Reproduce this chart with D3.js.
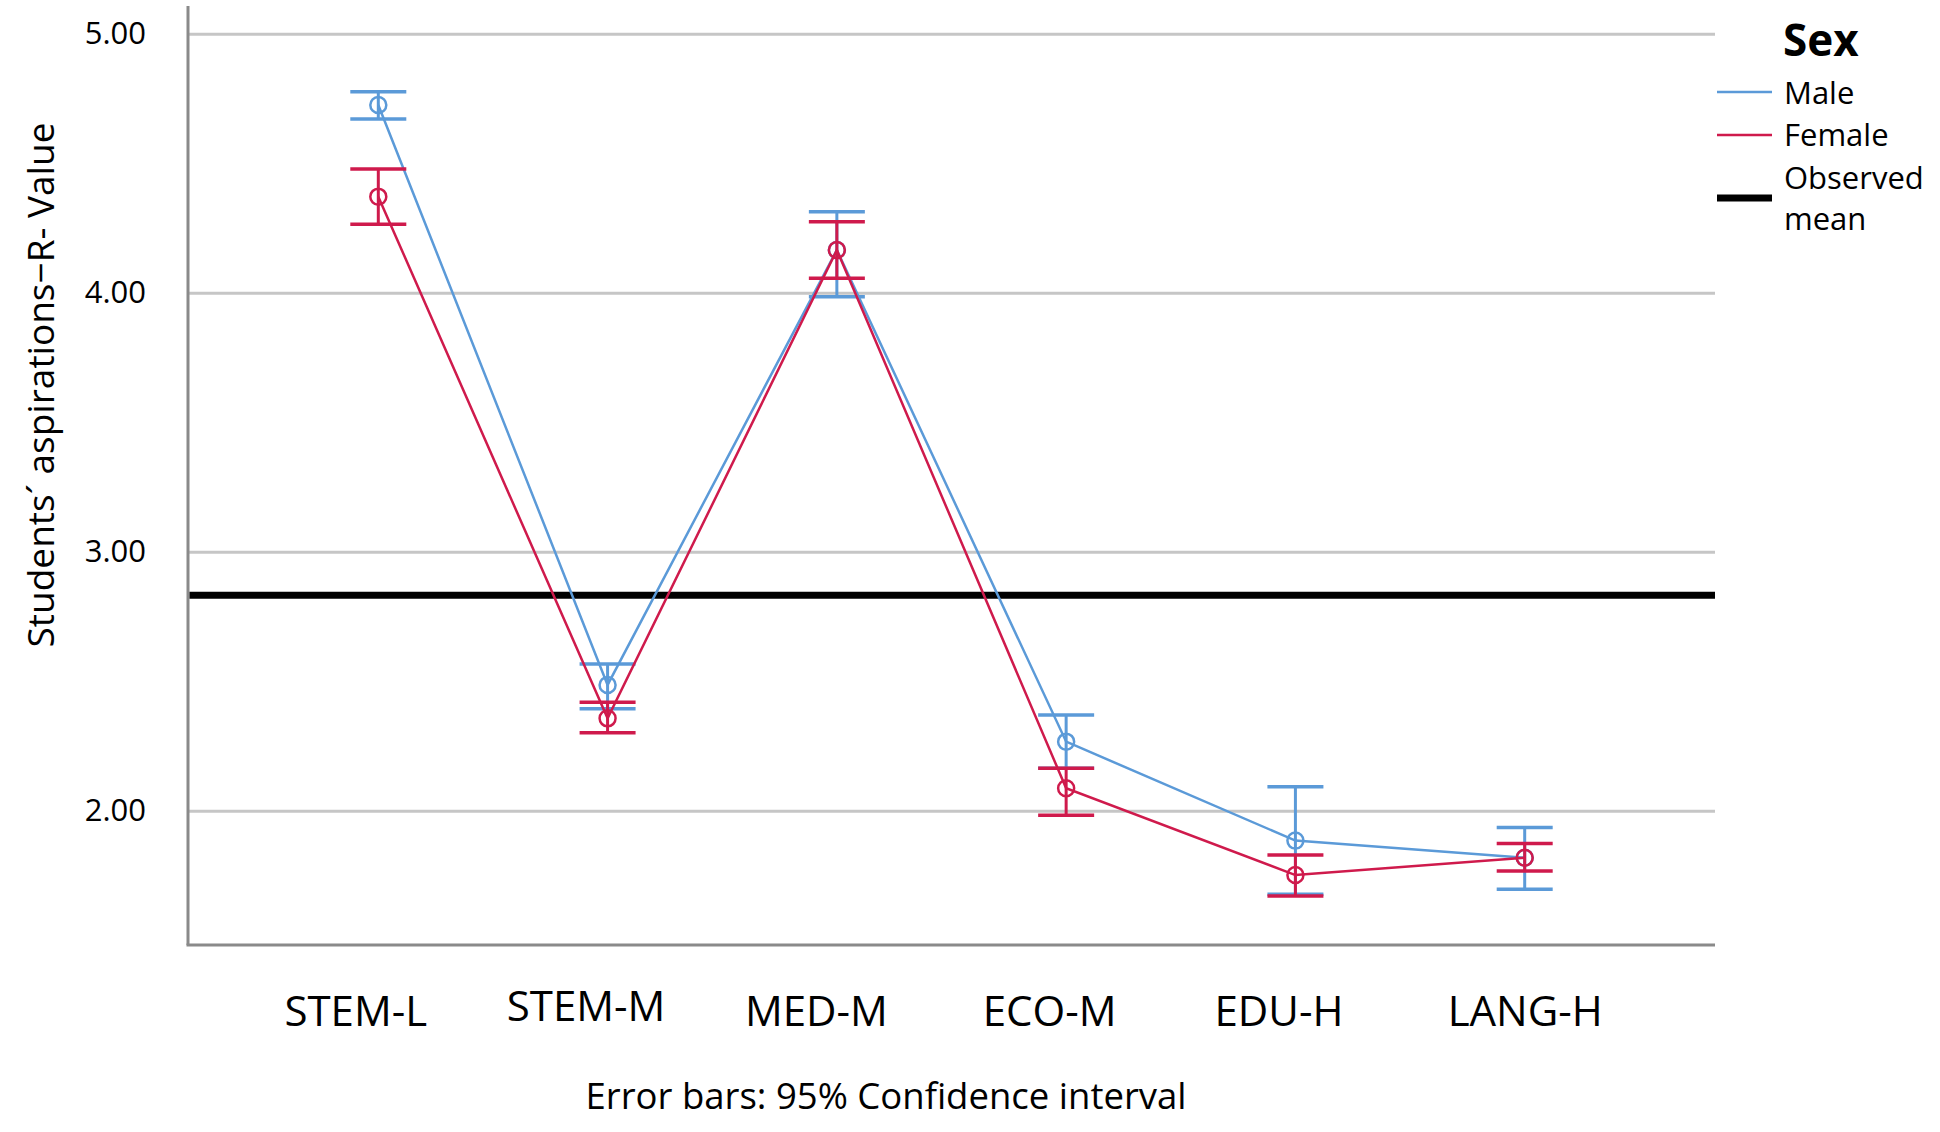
<!DOCTYPE html>
<html>
<head>
<meta charset="utf-8">
<script src="https://cdn.jsdelivr.net/npm/d3@7"></script>
<style>
  html, body { margin: 0; padding: 0; background: #fff; }
  svg { display: block; }
  text { font-family: "Open Sans", "Noto Sans", sans-serif; fill: #000; }
</style>
</head>
<body>
<svg id="chart" width="1940" height="1132"></svg>
<script>
// ---- data ----
const categories = ["STEM-L", "STEM-M", "MED-M", "ECO-M", "EDU-H", "LANG-H"];
const maleMean   = [4.727, 2.488, 4.167, 2.269, 1.887, 1.821];
const maleLower  = [4.673, 2.396, 3.987, 2.166, 1.680, 1.699];
const maleUpper  = [4.778, 2.569, 4.315, 2.372, 2.095, 1.938];
const femaleMean  = [4.373, 2.359, 4.167, 2.089, 1.754, 1.821];
const femaleLower = [4.266, 2.303, 4.058, 1.985, 1.673, 1.770];
const femaleUpper = [4.480, 2.421, 4.276, 2.166, 1.831, 1.876];
const observedMean = 2.834;
const yTicks = [2, 3, 4, 5];
const seriesNames = ["Male", "Female"];
const legendTitle = "Sex";
const observedLabel = ["Observed", "mean"];
const yTitle = "Students\u00b4 aspirations\u2212R- Value";
const footnote = "Error bars: 95% Confidence interval";

const colors = { Male: "#5b9ad8", Female: "#cf1a4c" };

// ---- layout ----
const svg = d3.select("#chart");
const plot = { left: 188, right: 1715, top: 6, bottom: 945 };
// label placement tweaks (layout only): horizontal / vertical nudges of category labels
const labelDx = [-23, -22, -21, -17, -17, 0];
const labelDy = [0, -5, 0, 0, 0, 0];

const x = d3.scalePoint().domain(categories).range([plot.left, plot.right]).padding(0.83);
const y = d3.scaleLinear().domain([1.484, 5.109]).range([plot.bottom, plot.top]);

// gridlines
svg.append("g").selectAll("line").data(yTicks).join("line")
  .attr("x1", plot.left).attr("x2", plot.right)
  .attr("y1", d => y(d)).attr("y2", d => y(d))
  .attr("stroke", "#c6c6c6").attr("stroke-width", 3);

// y axis
const yAxis = d3.axisLeft(y).tickValues(yTicks).tickFormat(d3.format(".2f")).tickSize(0).tickPadding(42);
const yg = svg.append("g").attr("transform", `translate(${plot.left},0)`).call(yAxis);
yg.select(".domain").remove();
yg.selectAll("text").style("font-size", "31px").attr("fill", "#000").attr("dy", "0.3em");

// x axis
const xAxis = d3.axisBottom(x).tickSize(0).tickPadding(0);
const xg = svg.append("g").attr("transform", `translate(0,${plot.bottom})`).call(xAxis);
xg.select(".domain").remove();
xg.selectAll("text").style("font-size", "42px").attr("fill", "#000")
  .attr("x", (d, i) => labelDx[i])
  .attr("y", (d, i) => 81 + labelDy[i]).attr("dy", 0);

// axis lines
svg.append("line").attr("x1", plot.left).attr("x2", plot.left).attr("y1", plot.top).attr("y2", plot.bottom)
  .attr("stroke", "#8a8a8a").attr("stroke-width", 3);
svg.append("line").attr("x1", plot.left - 1.5).attr("x2", plot.right).attr("y1", plot.bottom).attr("y2", plot.bottom)
  .attr("stroke", "#8a8a8a").attr("stroke-width", 3);

// observed mean line
svg.append("line").attr("x1", plot.left + 1.5).attr("x2", plot.right)
  .attr("y1", y(observedMean)).attr("y2", y(observedMean))
  .attr("stroke", "#000").attr("stroke-width", 7);

// series
const series = [
  { name: "Male", mean: maleMean, lo: maleLower, hi: maleUpper },
  { name: "Female", mean: femaleMean, lo: femaleLower, hi: femaleUpper }
];
const capHalf = 28;
const line = d3.line().x(d => x(d.c)).y(d => y(d.v));

series.forEach(s => {
  const g = svg.append("g");
  const pts = categories.map((c, i) => ({ c, v: s.mean[i], lo: s.lo[i], hi: s.hi[i] }));
  const col = colors[s.name];
  g.append("path").datum(pts).attr("d", line).attr("fill", "none")
    .attr("stroke", col).attr("stroke-width", 2.5);
  g.selectAll(".eb").data(pts).join("line")
    .attr("x1", d => x(d.c)).attr("x2", d => x(d.c))
    .attr("y1", d => y(d.lo)).attr("y2", d => y(d.hi))
    .attr("stroke", col).attr("stroke-width", 3);
  g.selectAll(".capHi").data(pts).join("line")
    .attr("x1", d => x(d.c) - capHalf).attr("x2", d => x(d.c) + capHalf)
    .attr("y1", d => y(d.hi)).attr("y2", d => y(d.hi))
    .attr("stroke", col).attr("stroke-width", 3.5);
  g.selectAll(".capLo").data(pts).join("line")
    .attr("x1", d => x(d.c) - capHalf).attr("x2", d => x(d.c) + capHalf)
    .attr("y1", d => y(d.lo)).attr("y2", d => y(d.lo))
    .attr("stroke", col).attr("stroke-width", 3.5);
  g.selectAll("circle").data(pts).join("circle")
    .attr("cx", d => x(d.c)).attr("cy", d => y(d.v)).attr("r", 8)
    .attr("fill", "none").attr("stroke", col).attr("stroke-width", 2.5);
});

// y title
svg.append("text")
  .attr("transform", `translate(54,385) rotate(-90)`)
  .attr("text-anchor", "middle")
  .style("font-size", "37px")
  .text(yTitle);

// footnote
svg.append("text").attr("x", 886).attr("y", 1109).attr("text-anchor", "middle")
  .style("font-size", "36.5px").text(footnote);

// legend
const lg = svg.append("g");
lg.append("text").attr("x", 1783).attr("y", 56).style("font-size", "44px").style("font-weight", "bold").text(legendTitle);
const legRows = [
  { label: seriesNames[0], color: colors.Male, ly: 92, ty: 104, w: 2.5 },
  { label: seriesNames[1], color: colors.Female, ly: 135, ty: 146, w: 2.5 }
];
legRows.forEach(r => {
  lg.append("line").attr("x1", 1717).attr("x2", 1772).attr("y1", r.ly).attr("y2", r.ly)
    .attr("stroke", r.color).attr("stroke-width", r.w);
  lg.append("text").attr("x", 1784).attr("y", r.ty).style("font-size", "31px").text(r.label);
});
lg.append("line").attr("x1", 1717).attr("x2", 1772).attr("y1", 198).attr("y2", 198)
  .attr("stroke", "#000").attr("stroke-width", 7);
lg.append("text").attr("x", 1784).attr("y", 189).style("font-size", "31px").text(observedLabel[0]);
lg.append("text").attr("x", 1784).attr("y", 230).style("font-size", "31px").text(observedLabel[1]);
</script>
</body>
</html>
